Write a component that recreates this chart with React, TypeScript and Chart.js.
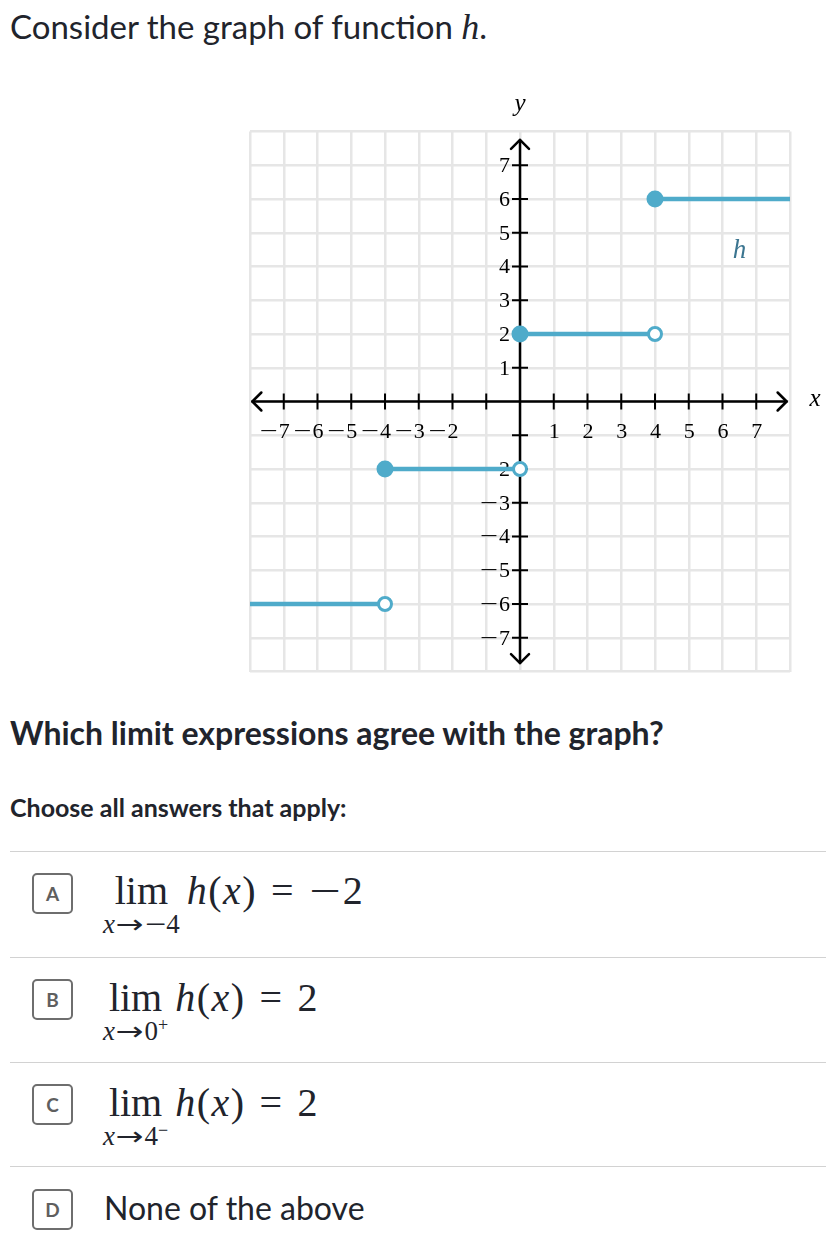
import React, { useEffect, useRef } from 'react';
import { Chart, registerables } from 'chart.js';

Chart.register(...registerables);

// ---- data ----
const segmentStarts = [-8, -4, 0, 4];
const segmentEnds = [-4, 0, 4, 8];
const segmentValues = [-6, -2, 2, 6];
const closedX = [-4, 0, 4];
const closedY = [-2, 2, 6];
const openX = [-4, 0, 4];
const openY = [-6, -2, 2];
const tickValues = [-7, -6, -5, -4, -3, -2, -1, 1, 2, 3, 4, 5, 6, 7];
const xTickLabels = [-7, -6, -5, -4, -3, -2, 1, 2, 3, 4, 5, 6, 7];
const yTickLabels = [-7, -6, -5, -4, -3, -2, 1, 2, 3, 4, 5, 6, 7];
const axisMin = -8;
const axisMax = 8;
const curveLabel = 'h';
const curveLabelPos = { x: 6.5, y: 4.45 };

const BLUE = '#4fabca';
const SERIF = '"Liberation Serif", "DejaVu Serif", serif';

// draws a number label whose right edge is at (rx, y); minus is widened like a TeX minus
function drawNumber(ctx: CanvasRenderingContext2D, v: number, rx: number, y: number) {
  const digits = String(Math.abs(v));
  const dw = ctx.measureText(digits).width;
  ctx.textAlign = 'right';
  ctx.fillText(digits, rx, y);
  if (v < 0) {
    const mw = ctx.measureText('\u2212').width;
    const sx = 1.45;
    ctx.save();
    ctx.translate(rx - dw - 1, y);
    ctx.scale(sx, 1);
    ctx.fillText('\u2212', 0, 0);
    ctx.restore();
    return dw + mw * sx + 1;
  }
  return dw;
}

const axesPlugin = {
  id: 'mathAxes',
  beforeDatasetsDraw(chart: any) {
    const { ctx, scales } = chart;
    const xs = scales.x;
    const ys = scales.y;
    const x0 = xs.getPixelForValue(0);
    const y0 = ys.getPixelForValue(0);
    ctx.save();
    ctx.strokeStyle = '#000';
    ctx.fillStyle = '#000';
    ctx.lineWidth = 2.5;
    ctx.lineCap = 'round';
    ctx.lineJoin = 'round';
    const xl = xs.getPixelForValue(-7.93);
    const xr = xs.getPixelForValue(7.9);
    const yt = ys.getPixelForValue(7.75);
    const yb = ys.getPixelForValue(-7.75);
    ctx.beginPath();
    ctx.moveTo(xl, y0);
    ctx.lineTo(xr, y0);
    ctx.moveTo(x0, yt);
    ctx.lineTo(x0, yb);
    ctx.stroke();
    const a = 9;
    ctx.beginPath();
    ctx.moveTo(xl + a, y0 - a);
    ctx.lineTo(xl, y0);
    ctx.lineTo(xl + a, y0 + a);
    ctx.moveTo(xr - a, y0 - a);
    ctx.lineTo(xr, y0);
    ctx.lineTo(xr - a, y0 + a);
    ctx.moveTo(x0 - a, yt + a);
    ctx.lineTo(x0, yt);
    ctx.lineTo(x0 + a, yt + a);
    ctx.moveTo(x0 - a, yb - a);
    ctx.lineTo(x0, yb);
    ctx.lineTo(x0 + a, yb - a);
    ctx.stroke();
    ctx.lineWidth = 2;
    ctx.lineCap = 'butt';
    ctx.beginPath();
    tickValues.forEach((v) => {
      const px = xs.getPixelForValue(v);
      ctx.moveTo(px, y0 - 8);
      ctx.lineTo(px, y0 + 8);
      const py = ys.getPixelForValue(v);
      ctx.moveTo(x0 - 8, py);
      ctx.lineTo(x0 + 8, py);
    });
    ctx.stroke();
    ctx.font = '22px ' + SERIF;
    ctx.textBaseline = 'middle';
    const digitW = ctx.measureText('0').width;
    xTickLabels.forEach((v) => {
      const px = xs.getPixelForValue(v);
      drawNumber(ctx, v, px + digitW / 2 + 0.5, y0 + 31);
    });
    yTickLabels.forEach((v) => {
      const py = ys.getPixelForValue(v);
      drawNumber(ctx, v, x0 - 10, py + 1);
    });
    ctx.font = 'italic 25px ' + SERIF;
    ctx.textAlign = 'center';
    ctx.fillText('y', x0, ys.getPixelForValue(axisMax) - 27);
    ctx.fillText('x', xs.getPixelForValue(axisMax) + 25, y0 - 2);
    ctx.fillStyle = '#3b7590';
    ctx.font = 'italic 27px ' + SERIF;
    ctx.fillText(curveLabel, xs.getPixelForValue(curveLabelPos.x), ys.getPixelForValue(curveLabelPos.y));
    ctx.restore();
  },
};

function GraphChart() {
  const ref = useRef<HTMLCanvasElement | null>(null);
  useEffect(() => {
    if (!ref.current) return;
    const segmentSets = segmentStarts.map((s, i) => ({
      data: [
        { x: s, y: segmentValues[i] },
        { x: segmentEnds[i], y: segmentValues[i] },
      ],
      showLine: true,
      borderColor: BLUE,
      borderWidth: 4.5,
      pointRadius: 0,
      order: 2,
    }));
    const chart = new Chart(ref.current, {
      type: 'scatter',
      data: {
        datasets: [
          {
            data: closedX.map((x, i) => ({ x, y: closedY[i] })),
            pointRadius: 8.5,
            backgroundColor: BLUE,
            borderColor: BLUE,
            borderWidth: 0,
            order: 0,
          },
          {
            data: openX.map((x, i) => ({ x, y: openY[i] })),
            pointRadius: 6.5,
            backgroundColor: '#ffffff',
            borderColor: BLUE,
            borderWidth: 3,
            order: 0,
          },
          ...segmentSets,
        ] as any,
      },
      options: {
        responsive: false,
        animation: false,
        events: [],
        layout: { padding: { left: 20, top: 41.5, right: 40, bottom: 18.5 } },
        plugins: { legend: { display: false }, tooltip: { enabled: false } },
        scales: {
          x: {
            type: 'linear',
            min: axisMin,
            max: axisMax,
            ticks: { stepSize: 1, display: false, autoSkip: false },
            grid: { color: '#e6e6e6', lineWidth: 2.5, drawTicks: false },
            border: { display: false },
          },
          y: {
            type: 'linear',
            min: axisMin,
            max: axisMax,
            ticks: { stepSize: 1, display: false, autoSkip: false },
            grid: { color: '#e6e6e6', lineWidth: 2.5, drawTicks: false },
            border: { display: false },
          },
        },
      } as any,
      plugins: [axesPlugin],
    });
    return () => chart.destroy();
  }, []);
  return (
    <canvas
      ref={ref}
      width={600}
      height={600}
      style={{ position: 'absolute', left: 230, top: 90, width: 600, height: 600, display: 'block' }}
    />
  );
}

const mathStyle: React.CSSProperties = { fontFamily: SERIF };

function LetterBox({ letter, top }: { letter: string; top: number }) {
  return (
    <div
      style={{
        position: 'absolute',
        left: 32,
        top,
        width: 41,
        height: 41,
        boxSizing: 'border-box',
        border: '2px solid #6e6e6e',
        borderRadius: 5,
        display: 'flex',
        alignItems: 'center',
        justifyContent: 'center',
        fontFamily: 'Lato, sans-serif',
        fontWeight: 700,
        fontSize: 19,
        color: '#5f5f5f',
      }}
    >
      {letter}
    </div>
  );
}

const Minus = () => (
  <span style={{ display: 'inline-block', transform: 'scaleX(1.4)', margin: '0 0.12em' }}>−</span>
);
const Arrow = () => (
  <span style={{ display: 'inline-block', fontFamily: '"DejaVu Sans", sans-serif', fontSize: '0.95em', transform: 'scaleX(1.3)', margin: '0 4px' }}>→</span>
);

function LimitRow({ top, sub, rhs }: { top: number; sub: React.ReactNode; rhs: React.ReactNode }) {
  return (
    <div style={{ position: 'absolute', left: 103, top, display: 'flex', alignItems: 'flex-start', color: '#21242c', ...mathStyle }}>
      <div style={{ display: 'flex', flexDirection: 'column', alignItems: 'center' }}>
        <span style={{ fontSize: 40, lineHeight: '40px', whiteSpace: 'nowrap' }}>lim</span>
        <span style={{ fontSize: 27, lineHeight: '27px', marginTop: 0, whiteSpace: 'nowrap' }}>{sub}</span>
      </div>
      <span style={{ fontSize: 40, lineHeight: '40px', marginLeft: 7, whiteSpace: 'nowrap', letterSpacing: 1.5 }}>{rhs}</span>
    </div>
  );
}

const Eq = () => <span style={{ margin: '0 14px' }}>=</span>;
const HX = () => (
  <>
    <i>h</i>(<i>x</i>)
  </>
);

export default function App() {
  const sep = [851, 957, 1062, 1166];
  return (
    <div style={{ position: 'absolute', left: 0, top: 0, width: 826, height: 1240, background: '#fff', color: '#21242c', fontFamily: 'Lato, sans-serif', overflow: 'hidden' }}>
      <div style={{ position: 'absolute', left: 10, top: 10, fontSize: 33, lineHeight: '33px', whiteSpace: 'nowrap' }}>
        Consider the graph of function <i style={{ fontFamily: SERIF, fontSize: 36 }}>h</i>.
      </div>
      <GraphChart />
      <div style={{ position: 'absolute', left: 10, top: 717, fontSize: 32, lineHeight: '32px', fontWeight: 700, whiteSpace: 'nowrap' }}>
        Which limit expressions agree with the graph?
      </div>
      <div style={{ position: 'absolute', left: 10, top: 795, fontSize: 25, lineHeight: '25px', fontWeight: 700, whiteSpace: 'nowrap' }}>
        Choose all answers that apply:
      </div>
      {sep.map((t) => (
        <div key={t} style={{ position: 'absolute', left: 10, top: t, width: 816, height: 1, background: '#d2d2d2' }} />
      ))}
      <LetterBox letter="A" top={873} />
      <LetterBox letter="B" top={979} />
      <LetterBox letter="C" top={1084} />
      <LetterBox letter="D" top={1189} />
      <LimitRow
        top={871}
        sub={<><i>x</i><Arrow /><Minus />4</>}
        rhs={<><HX /><Eq /><Minus />2</>}
      />
      <LimitRow
        top={978}
        sub={<><i>x</i><Arrow />0<span style={{ fontSize: 18, position: 'relative', top: -9 }}>+</span></>}
        rhs={<><HX /><Eq />2</>}
      />
      <LimitRow
        top={1083}
        sub={<><i>x</i><Arrow />4<span style={{ fontSize: 18, position: 'relative', top: -9 }}>−</span></>}
        rhs={<><HX /><Eq />2</>}
      />
      <div style={{ position: 'absolute', left: 104, top: 1192, fontSize: 32, lineHeight: '32px', whiteSpace: 'nowrap' }}>
        None of the above
      </div>
    </div>
  );
}
